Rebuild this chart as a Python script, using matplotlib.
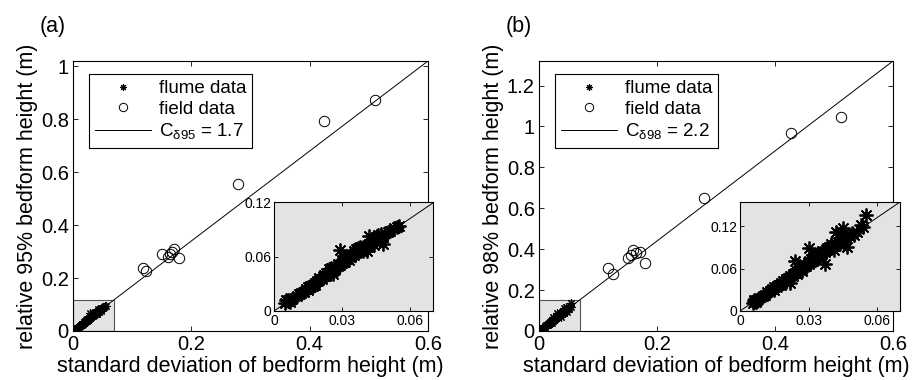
import matplotlib
matplotlib.use("Agg")
import matplotlib.pyplot as plt
from matplotlib.patches import Rectangle

plt.rcParams['font.family'] = ['Liberation Sans', 'DejaVu Sans']
plt.rcParams['mathtext.fontset'] = 'custom'
plt.rcParams['mathtext.rm'] = 'Liberation Sans'

# flume data, 95% height (a)
flume_x_a = [0.005, 0.006, 0.007, 0.006, 0.007, 0.008, 0.0065, 0.0055,
             0.010, 0.011, 0.012, 0.013, 0.014, 0.015, 0.015, 0.016, 0.017, 0.018,
             0.018, 0.019, 0.020, 0.020, 0.021, 0.022, 0.022, 0.023, 0.023, 0.024,
             0.024, 0.025, 0.025, 0.026, 0.026, 0.027, 0.027, 0.028, 0.028, 0.029,
             0.029, 0.030, 0.030, 0.031, 0.031, 0.032, 0.032, 0.033, 0.033, 0.034,
             0.034, 0.035, 0.035, 0.036, 0.036, 0.037, 0.037, 0.038, 0.038, 0.039,
             0.039, 0.040, 0.040, 0.041, 0.041, 0.042, 0.042, 0.043, 0.044, 0.044,
             0.045, 0.046, 0.047, 0.047, 0.048, 0.048, 0.049, 0.050, 0.051, 0.053,
             0.054, 0.055]
flume_y_a = [0.009, 0.011, 0.012, 0.012, 0.010, 0.013, 0.011, 0.012,
             0.016, 0.019, 0.020, 0.021, 0.024, 0.026, 0.023, 0.028, 0.027, 0.031,
             0.029, 0.033, 0.034, 0.036, 0.035, 0.038, 0.040, 0.042, 0.039, 0.041,
             0.046, 0.043, 0.047, 0.044, 0.041, 0.048, 0.046, 0.049, 0.052, 0.051,
             0.067, 0.053, 0.056, 0.054, 0.058, 0.057, 0.060, 0.056, 0.061, 0.059,
             0.063, 0.062, 0.066, 0.064, 0.068, 0.065, 0.069, 0.067, 0.071, 0.066,
             0.070, 0.072, 0.068, 0.070, 0.066, 0.074, 0.083, 0.075, 0.079, 0.073,
             0.082, 0.084, 0.078, 0.085, 0.074, 0.082, 0.086, 0.087, 0.088, 0.091,
             0.093, 0.094]

# flume data, 98% height (b)
flume_x_b = [0.006, 0.007, 0.0065, 0.007, 0.006, 0.0075, 0.0055, 0.008,
             0.010, 0.011, 0.012, 0.013, 0.014, 0.015, 0.015, 0.016, 0.017, 0.018,
             0.018, 0.019, 0.020, 0.020, 0.021, 0.022, 0.022, 0.023, 0.023, 0.024,
             0.024, 0.025, 0.025, 0.026, 0.026, 0.027, 0.027, 0.028, 0.028, 0.029,
             0.030, 0.030, 0.030, 0.031, 0.031, 0.032, 0.032, 0.033, 0.033, 0.034,
             0.034, 0.035, 0.035, 0.036, 0.036, 0.037, 0.037, 0.038, 0.038, 0.039,
             0.039, 0.040, 0.040, 0.041, 0.041, 0.042, 0.042, 0.043, 0.044, 0.045,
             0.045, 0.046, 0.047, 0.047, 0.048, 0.049, 0.050, 0.051, 0.053, 0.054,
             0.055]
flume_y_b = [0.013, 0.015, 0.014, 0.013, 0.016, 0.015, 0.012, 0.017,
             0.021, 0.023, 0.027, 0.028, 0.031, 0.034, 0.030, 0.036, 0.037, 0.040,
             0.037, 0.042, 0.045, 0.041, 0.047, 0.049, 0.039, 0.052, 0.050, 0.054,
             0.070, 0.056, 0.052, 0.058, 0.061, 0.060, 0.057, 0.063, 0.066, 0.064,
             0.089, 0.067, 0.070, 0.069, 0.073, 0.071, 0.075, 0.073, 0.077, 0.076,
             0.080, 0.078, 0.082, 0.080, 0.085, 0.067, 0.083, 0.086, 0.089, 0.087,
             0.091, 0.090, 0.094, 0.092, 0.086, 0.112, 0.095, 0.097, 0.100, 0.117,
             0.098, 0.104, 0.091, 0.108, 0.106, 0.110, 0.107, 0.112, 0.121, 0.118,
             0.136]

# field data
field_x_a = [0.118, 0.123, 0.150, 0.160, 0.164, 0.167, 0.171, 0.179, 0.279, 0.425, 0.511]
field_y_a = [0.237, 0.228, 0.292, 0.279, 0.292, 0.300, 0.311, 0.277, 0.554, 0.792, 0.873]
field_x_b = [0.117, 0.125, 0.150, 0.156, 0.159, 0.164, 0.172, 0.179, 0.279, 0.427, 0.512]
field_y_b = [0.308, 0.278, 0.357, 0.373, 0.398, 0.381, 0.386, 0.331, 0.649, 0.968, 1.044]

coef_a, coef_b = 1.7, 2.2
W, H = 914, 380


def panel(ax_rect, inset_rect, fx, fy, gx, gy, c, pct, tag, yticks, yticklabels, inset_yticks):
    ax = fig.add_axes(ax_rect)
    ymax = c * 0.6
    zoom_x = 0.07
    zoom_y = c * zoom_x
    ax.add_patch(Rectangle((0, 0), zoom_x, zoom_y, facecolor='#e3e3e3',
                           edgecolor='#555555', lw=0.8, zorder=0))
    ax.plot(fx, fy, ls='none', marker=(8, 2, 0), ms=6, mec='k', mew=0.8,
            label='flume data', zorder=2)
    ax.plot(gx, gy, ls='none', marker='o', ms=7.5, mfc='none', mec='k', mew=0.7,
            label='field data', zorder=3)
    ax.plot([0, 0.6], [0, ymax], color='k', lw=0.7,
            label=r'C$_{\mathregular{δ%s}}$ = %.1f' % (pct, c), zorder=1)
    ax.set_xlim(0, 0.6)
    ax.set_ylim(0, ymax)
    ax.set_xticks([0, 0.2, 0.4, 0.6])
    ax.set_xticklabels(['0', '0.2', '0.4', '0.6'])
    ax.set_yticks(yticks)
    ax.set_yticklabels(yticklabels)
    ax.tick_params(direction='in', top=True, right=True, length=3.5, width=0.6,
                   labelsize=14.5, pad=3)
    for s in ax.spines.values():
        s.set_linewidth(0.8)
    ax.set_xlabel('standard deviation of bedform height (m)', fontsize=15.5, labelpad=1)
    ax.set_ylabel('relative %s%% bedform height (m)' % pct, fontsize=15.5, labelpad=2)
    leg = ax.legend(loc='upper left', bbox_to_anchor=(0.02, 0.985), fontsize=13.5,
                    frameon=True, fancybox=False, edgecolor='k', framealpha=1,
                    handlelength=3.0, handletextpad=0.4, labelspacing=0.2,
                    borderpad=0.3, markerscale=0.8)
    leg.get_frame().set_linewidth(0.8)
    fig.text(ax_rect[0] - 0.037, 0.915, tag, fontsize=15.5)

    ins = fig.add_axes(inset_rect)
    ins.set_facecolor('#e3e3e3')
    ins.plot(fx, fy, ls='none', marker=(8, 2, 0), ms=10, mec='k', mew=1.3, zorder=2)
    ins.plot([0, zoom_x], [0, zoom_y], color='k', lw=0.7, zorder=1)
    ins.set_xlim(0, zoom_x)
    ins.set_ylim(0, zoom_y)
    ins.set_xticks([0, 0.03, 0.06])
    ins.set_xticklabels(['0', '0.03', '0.06'])
    ins.set_yticks(inset_yticks)
    ins.set_yticklabels(['0', '0.06', '0.12'])
    ins.tick_params(direction='in', top=True, right=True, length=3, width=0.6,
                    labelsize=10, pad=2)
    for s in ins.spines.values():
        s.set_linewidth(0.8)
    return ax, ins


fig = plt.figure(figsize=(W / 100, H / 100), dpi=100)

panel([73 / W, 49 / H, 355 / W, 270 / H], [274 / W, 69 / H, 159 / W, 109 / H],
      flume_x_a, flume_y_a, field_x_a, field_y_a, coef_a, '95', '(a)',
      [0, 0.2, 0.4, 0.6, 0.8, 1.0], ['0', '0.2', '0.4', '0.6', '0.8', '1'],
      [0, 0.06, 0.12])
panel([539 / W, 49 / H, 354 / W, 270 / H], [740 / W, 69 / H, 160 / W, 109 / H],
      flume_x_b, flume_y_b, field_x_b, field_y_b, coef_b, '98', '(b)',
      [0, 0.2, 0.4, 0.6, 0.8, 1.0, 1.2], ['0', '0.2', '0.4', '0.6', '0.8', '1', '1.2'],
      [0, 0.06, 0.12])

fig.savefig('out.png', dpi=100)
